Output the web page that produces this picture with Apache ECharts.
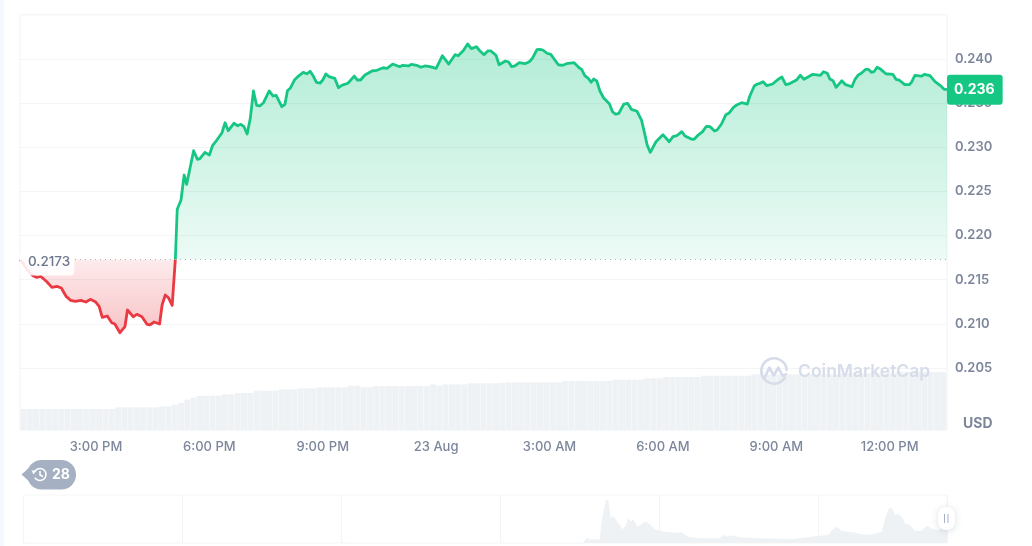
<!DOCTYPE html>
<html>
<head>
<meta charset="utf-8">
<style>html,body{margin:0;padding:0;background:#fff}#c{width:1032px;height:546px}</style>
<script src="https://cdn.jsdelivr.net/npm/echarts@6/dist/echarts.min.js"></script>
</head>
<body>
<div id="c"></div>
<script>
// minutes since 1:00 PM on 22 Aug
const redMinutes = [0,7,15,20,26,32,42,50,58,65,73,80,87,96,104,111,119,125,130,138,145,150,158,161,166,170,179,185,193,201,206,212,221,225,230,235,241,246];
const redPrices = [.2173,.21655,.21576,.21545,.21527,.21539,.21477,.21414,.21425,.21406,.21308,.21267,.21255,.21267,.21248,.21278,.21251,.21199,.21074,.21089,.21013,.20998,.209,.20888,.20968,.21157,.21081,.21108,.21081,.20995,.2099,.21021,.20998,.21214,.21327,.21296,.2121,.2173];
const greenMinutes = [246,249,255,260,264,275,281,285,293,300,305,310,320,325,330,339,345,350,355,360,365,370,375,380,386,395,401,406,415,420,424,429,435,441,449,455,460,465,470,476,480,485,490,499,505,511,520,530,535,540,547,559,566,576,582,591,602,607,616,621,629,636,642,650,660,670,680,690,695,703,710,716,724,730,736,742,747,755,760,770,775,780,785,792,801,808,813,820,825,830,836,842,854,861,867,879,887,891,896,902,906,910,915,920,926,935,940,945,950,958,964,970,979,986,991,995,1000,1009,1020,1030,1036,1042,1050,1055,1066,1070,1076,1083,1089,1095,1102,1106,1113,1120,1125,1132,1137,1145,1154,1158,1165,1170,1174,1179,1185,1194,1203,1209,1215,1220,1232,1238,1244,1258,1270,1275,1281,1285,1290,1295,1304,1310,1320,1325,1330,1335,1342,1346,1351,1355,1360,1366,1374,1385,1390,1395,1404,1411,1415,1420,1431,1435,1444,1452,1460,1466,1471];
const greenPrices = [.2173,.22298,.22403,.22686,.22581,.22961,.22864,.22871,.22943,.22913,.23018,.23063,.23165,.23278,.23188,.23272,.23244,.2326,.23233,.2315,.23328,.23638,.23476,.23468,.23505,.23638,.23581,.23589,.2346,.23487,.23641,.23675,.23762,.23804,.23849,.23833,.23861,.23807,.23736,.23728,.23762,.2383,.238,.23781,.23675,.23705,.23725,.23807,.23762,.23762,.23819,.23867,.23872,.23901,.23895,.23943,.23913,.23929,.23921,.2394,.23929,.23906,.23921,.23913,.23895,.24037,.23943,.24049,.24037,.24094,.2417,.24117,.24139,.24087,.24049,.24091,.24091,.24042,.23935,.23977,.23966,.23913,.23921,.23958,.23947,.23969,.24011,.24105,.2411,.24099,.24065,.24053,.23935,.23929,.23947,.23958,.23901,.23883,.23811,.23777,.23736,.23773,.23751,.23638,.23558,.23494,.23403,.23374,.23385,.2349,.23498,.2343,.23408,.23309,.23158,.23026,.22943,.23063,.23143,.23063,.2312,.23131,.23177,.23128,.2309,.23094,.23139,.23177,.23238,.23233,.23184,.23196,.23264,.23369,.23388,.23453,.23479,.23505,.2349,.23581,.23694,.23717,.23725,.23743,.23698,.23717,.2377,.23796,.23709,.23717,.23762,.23815,.2377,.23827,.23815,.23856,.23838,.23773,.23754,.23679,.23754,.23709,.23686,.2377,.23819,.23838,.23883,.23883,.23849,.23856,.23906,.23883,.23833,.23827,.2377,.23762,.23709,.23709,.2374,.23815,.23807,.23827,.23811,.23743,.23702,.2366,.23652];
const basePrice = 0.2173;
const lastPriceLabel = '0.236';
const basePriceLabel = '0.2173';
const priceTicks = [.205,.21,.215,.22,.225,.23,.235,.24];
const timeTickMinutes = [120,300,480,660,840,1020,1200,1380];
const timeTickLabels = ['3:00 PM','6:00 PM','9:00 PM','23 Aug','3:00 AM','6:00 AM','9:00 AM','12:00 PM'];
// volume, one bar per ten minutes (relative units)
const volumeValues = [21,21,21,21,21,21,21,21,21,21,21,21,21,21,21,22.7,22.7,22.7,22.7,22.7,22.7,22.7,23.7,23.7,25.5,27.3,30.5,32.5,34,34.3,34.3,34.3,35.7,35.7,37,37,37,39.3,39.3,39.3,39.3,40.7,40.7,40.7,41.7,41.7,41.7,42.7,42.7,42.7,42.7,42.7,44.3,44.3,42.7,42.7,44,44,44,44,44,44,44,44,44,45.7,44.5,45.7,45.7,45.7,45.7,46.7,46.7,46.7,46.7,46.7,47,47.7,47.7,47.7,47.7,47.7,47.7,47.7,47.7,47.7,49,49,49,49,49,49,49,49,50.3,50.3,50.3,50.3,50.3,51.7,51.7,51.7,53,53,53,53,53,53,54.3,54.3,54.3,54.3,54.3,54.3,54.3,54.3,55.7,55.7,55.7,55.7,55.7,55.7,55.7,55.7,55.7,55.7,55.7,55.7,55.7,55.7,56.7,56.7,56.7,56.7,56.7,56.7,56.7,56.7,56.7,58,58,58,58,58,58,58,58];
// navigator overview: days from its left edge, and relative volume
const miniDays = [0,13.93,14.06,14.19,24.63,24.79,24.93,25.37,25.45,25.52,25.64,25.74,25.84,25.96,26.18,26.37,26.5,26.62,26.73,26.84,27.02,27.36,27.57,27.79,28.16,28.75,28.97,29.26,29.78,30.66,30.8,30.95,31.1,31.54,32.42,33.87,34.62,34.92,35.43,35.58,35.8,36.02,36.53,36.82,37.27,37.78,37.92,38.07,38.22,38.36,38.51,38.69,38.8,39.02,39.24,39.54,39.76,40.05,40.27,40.65];
const miniValues = [0.2,0.3,1,0.3,0.3,5.3,3.5,3.7,24,23.7,43,43,24.7,27,19.7,13.7,17,25.3,21.3,23.7,16.3,21.3,18.7,13.7,11.3,10.3,10.7,6.3,4.7,4.7,8.3,6.3,7.7,5.7,4.7,4,6.3,7,8,13,16.3,12,10.7,9,8.3,11.3,24.7,33.7,35.7,28,29,25.7,19.7,18,12.3,12.3,17.3,13.7,13,17];
const historyCount = '28';

const zip = (a, b) => a.map((v, i) => [v, b[i]]);
const GREEN = '#16c784', RED = '#ea3943', GREY = '#7d879c', LINE = '#eff2f5';
const grad = (c, a, b) => new echarts.graphic.LinearGradient(0, 0, 0, 1, [
  {offset: 0, color: `rgba(${c},${a})`}, {offset: 1, color: `rgba(${c},${b})`}]);
const XMIN = -0.6, XMAX = 1471;
const chart = echarts.init(document.getElementById('c'), null, {renderer: 'canvas'});
const wm = '#d6dce9';
chart.setOption({
  animation: false,
  textStyle: {fontFamily: 'Inter, sans-serif'},
  grid: [
    {left: 20, width: 927, top: 14.86, height: 397.3, show: false},
    {left: 20, width: 927, top: 14.86, height: 415.14, show: true, borderColor: LINE, borderWidth: 1, backgroundColor: 'transparent'},
    {left: 23.7, width: 923.3, top: 495, height: 48, show: true, borderColor: '#f5f6f8', borderWidth: 1}
  ],
  xAxis: [
    {gridIndex: 0, type: 'value', min: XMIN, max: XMAX, show: false},
    {gridIndex: 1, type: 'value', min: XMIN, max: XMAX,
      axisLine: {show: false}, axisTick: {show: false}, splitLine: {show: false},
      axisLabel: {customValues: timeTickMinutes, margin: 11, fontSize: 13, fontWeight: 500, color: GREY,
        formatter: v => timeTickLabels[timeTickMinutes.indexOf(v)] || ''}},
    {gridIndex: 2, type: 'value', min: 0, max: 40.65, interval: 7,
      axisLine: {show: false}, axisTick: {show: false}, axisLabel: {show: false},
      splitLine: {show: true, lineStyle: {color: '#f3f4f6', width: 1}}}
  ],
  yAxis: [
    {gridIndex: 0, type: 'value', position: 'right', min: 0.2, max: 0.245,
      axisLine: {show: false}, axisTick: {show: false, customValues: priceTicks},
      axisLabel: {customValues: priceTicks, margin: 8, fontSize: 13, fontWeight: 600, color: GREY, formatter: v => v.toFixed(3)},
      splitLine: {show: true, lineStyle: {color: '#f3f4f6', width: 1}}},
    {gridIndex: 1, type: 'value', min: 0, max: 415.14, show: false},
    {gridIndex: 2, type: 'value', min: 0, max: 48, show: false}
  ],
  series: [
    {name: 'Volume', type: 'bar', xAxisIndex: 1, yAxisIndex: 1, z: 1, barWidth: 6.1, silent: true,
      itemStyle: {color: LINE},
      data: volumeValues.map((v, i) => [5 + 10 * i, v])},
    {name: 'Below', type: 'line', xAxisIndex: 0, yAxisIndex: 0, z: 3, showSymbol: false, silent: true,
      lineStyle: {color: RED, width: 2.8, join: 'round'}, itemStyle: {color: RED},
      areaStyle: {origin: basePrice, opacity: 1, color: grad('234,57,67', 0.1, 0.3)},
      data: zip(redMinutes, redPrices)},
    {name: 'Above', type: 'line', xAxisIndex: 0, yAxisIndex: 0, z: 4, showSymbol: false, silent: true,
      lineStyle: {color: GREEN, width: 2.8, join: 'round'}, itemStyle: {color: GREEN},
      areaStyle: {origin: basePrice, opacity: 1, color: grad('22,199,132', 0.33, 0.08)},
      endLabel: {show: true, formatter: lastPriceLabel, distance: 0, backgroundColor: GREEN, color: '#fff',
        fontSize: 14, fontWeight: 700, padding: [8, 8, 8, 7], borderRadius: 3},
      markLine: {silent: true, symbol: 'none', precision: 4,
        lineStyle: {color: '#a6b0c3', type: [1, 4], width: 1.2},
        label: {show: true, formatter: basePriceLabel, position: 'insideStartBottom', distance: 0, offset: [0, -8], color: '#6b778c',
          fontSize: 13.5, fontWeight: 500, backgroundColor: 'rgba(255,255,255,0.88)', padding: [4, 4, 6, 8], borderRadius: [0, 0, 4, 0]},
        data: [{yAxis: basePrice}]},
      data: zip(greenMinutes, greenPrices)},
    {name: 'Overview', type: 'line', xAxisIndex: 2, yAxisIndex: 2, z: 2, showSymbol: false, silent: true,
      lineStyle: {width: 0}, areaStyle: {color: LINE, opacity: 1},
      data: zip(miniDays, miniValues)}
  ],
  graphic: [
    {type: 'rect', z: 0, shape: {x: 0, y: 0, width: 4, height: 546}, style: {fill: '#f5f8fc'}},
    {type: 'text', z: 20, style: {x: 963, y: 423.5, text: 'USD', fill: GREY, font: '700 14px Inter, sans-serif', textVerticalAlign: 'middle'}},
    // watermark
    {type: 'arc', z: 20, shape: {cx: 774, cy: 371, r: 12.7, startAngle: 0.45, endAngle: Math.PI * 2, clockwise: true}, style: {stroke: wm, lineWidth: 2.6, fill: null}},
    {type: 'polyline', z: 20, shape: {points: [[764.5, 378], [769.3, 367.5], [773.8, 375.5], [778.3, 367.5], [782.7, 376], [787, 373.5]]}, style: {stroke: wm, lineWidth: 2.6, fill: null, lineJoin: 'round'}},
    {type: 'text', z: 20, style: {x: 798, y: 372, text: 'CoinMarketCap', fill: wm, font: '600 17.5px Inter, sans-serif', textVerticalAlign: 'middle'}},
    // history badge
    {type: 'polygon', z: 20, shape: {points: [[21.5, 474.5], [31, 466], [31, 483]]}, style: {fill: '#a6b0c3'}},
    {type: 'rect', z: 20, shape: {x: 27, y: 460, width: 49, height: 29.5, r: 14.7}, style: {fill: '#a6b0c3'}},
    {type: 'arc', z: 21, shape: {cx: 40, cy: 474.5, r: 6, startAngle: -2.6, endAngle: 2.6, clockwise: true}, style: {stroke: '#fff', lineWidth: 1.6, fill: null}},
    {type: 'polyline', z: 21, shape: {points: [[40, 471], [40, 475], [43, 476.5]]}, style: {stroke: '#fff', lineWidth: 1.5, fill: null}},
    {type: 'polygon', z: 21, shape: {points: [[31.5, 470.5], [36.5, 470.5], [33.5, 474.5]]}, style: {fill: '#fff'}},
    {type: 'text', z: 21, style: {x: 52, y: 474.5, text: historyCount, fill: '#fff', font: '700 14px Inter, sans-serif', textVerticalAlign: 'middle'}},
    // navigator handle
    {type: 'rect', z: 20, shape: {x: 938, y: 507, width: 17, height: 23, r: 8}, style: {fill: '#fff', shadowBlur: 7, shadowColor: 'rgba(88,102,126,0.22)', shadowOffsetY: 1}},
    {type: 'line', z: 21, shape: {x1: 944.5, y1: 514, x2: 944.5, y2: 523}, style: {stroke: '#a6b0c3', lineWidth: 1}},
    {type: 'line', z: 21, shape: {x1: 948, y1: 514, x2: 948, y2: 523}, style: {stroke: '#a6b0c3', lineWidth: 1}}
  ]
});
</script>
</body>
</html>
